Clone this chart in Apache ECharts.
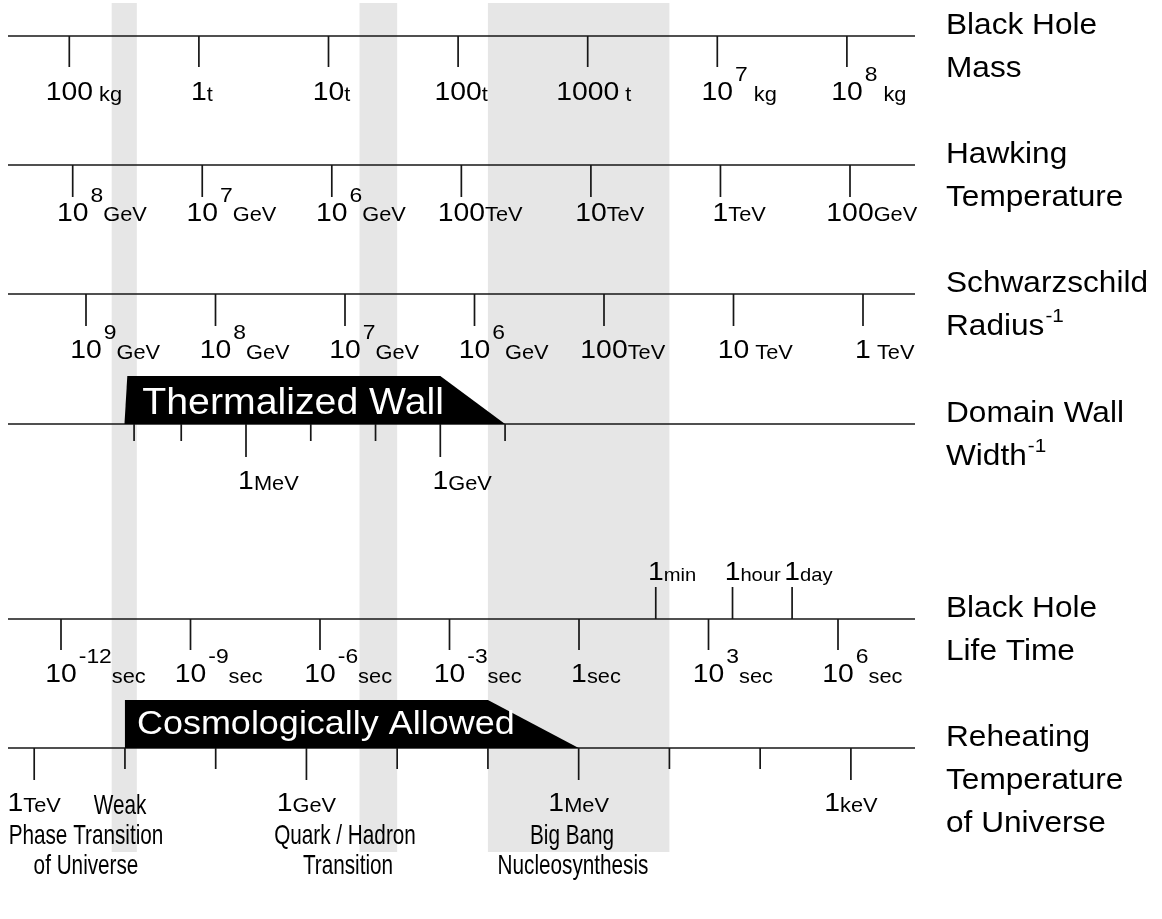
<!DOCTYPE html>
<html>
<head>
<meta charset="utf-8">
<script src="https://cdn.jsdelivr.net/npm/echarts@6.0.0/dist/echarts.min.js"></script>
<style>
  html, body { margin: 0; padding: 0; background: #fff; }
  #chart { width: 1162px; height: 919px; }
</style>
</head>
<body>
<div id="chart"></div>
<script>
// ---------------- DATA ----------------
// Black hole mass (kg)
const massValues = [1e2, 1e3, 1e4, 1e5, 1e6, 1e7, 1e8];
const massLabels = [['100', '', ' kg'], ['1', '', 't'], ['10', '', 't'], ['100', '', 't'], ['1000', '', ' t'], ['10', '7', ' kg'], ['10', '8', ' kg']];
// Hawking temperature (GeV)
const hawkingValues = [1e8, 1e7, 1e6, 1e5, 1e4, 1e3, 1e2];
const hawkingLabels = [['10', '8', 'GeV'], ['10', '7', 'GeV'], ['10', '6', 'GeV'], ['100', '', 'TeV'], ['10', '', 'TeV'], ['1', '', 'TeV'], ['100', '', 'GeV']];
// Schwarzschild radius^-1 (GeV)
const schwarzValues = [1e9, 1e8, 1e7, 1e6, 1e5, 1e4, 1e3];
const schwarzLabels = [['10', '9', 'GeV'], ['10', '8', 'GeV'], ['10', '7', 'GeV'], ['10', '6', 'GeV'], ['100', '', 'TeV'], ['10', '', ' TeV'], ['1', '', ' TeV']];
// Domain wall width^-1 (GeV)
const wallValues = [1.87e-5, 1e-4, 1e-3, 1e-2, 1e-1, 1, 10];
const wallLabels = [null, null, ['1', '', 'MeV'], null, null, ['1', '', 'GeV'], null];
// Black hole life time (sec)
const lifeValues = [1e-12, 1e-9, 1e-6, 1e-3, 1, 1e3, 1e6];
const lifeLabels = [['10', '-12', 'sec'], ['10', '-9', 'sec'], ['10', '-6', 'sec'], ['10', '-3', 'sec'], ['1', '', 'sec'], ['10', '3', 'sec'], ['10', '6', 'sec']];
const lifeMarkValues = [60, 3600, 86400];
const lifeMarkLabels = [['1', '', 'min'], ['1', '', 'hour'], ['1', '', 'day']];
// Reheating temperature of universe (GeV)
const reheatValues = [1e3, 1e2, 10, 1, 0.1, 0.01, 1e-3, 1e-4, 1e-5, 1e-6];
const reheatLabels = [['1', '', 'TeV'], null, null, ['1', '', 'GeV'], null, null, ['1', '', 'MeV'], null, null, ['1', '', 'keV']];
// Epochs (reheating temperature ranges, GeV)
const bandRanges = [[140, 74], [0.26, 0.1], [0.01, 1e-4]];
const bandNames = [['Weak', 'Phase Transition', 'of Universe'], ['Quark / Hadron', 'Transition'], ['Big Bang', 'Nucleosynthesis']];
// Banners
const wallBanner = { text: 'Thermalized Wall', bottomLeft: 1.33e-5, topLeft: 1.47e-5, topRight: 1, bottomRight: 10 };
const cosmoBanner = { text: 'Cosmologically Allowed', bottomLeft: 100, topLeft: 100, topRight: 0.01, bottomRight: 1e-3 };
// Row titles
const rowTitles = [
  [['Black Hole'], ['Mass']],
  [['Hawking'], ['Temperature']],
  [['Schwarzschild'], ['Radius', '-1']],
  [['Domain Wall'], ['Width', '-1']],
  [['Black Hole'], ['Life Time']],
  [['Reheating'], ['Temperature'], ['of Universe']]
];

// ---------------- LAYOUT / STYLE ----------------
const FONT = '"Liberation Sans", Arial, Helvetica, sans-serif';
const INK = '#161616';
const LW = 1.7;
const SX = 1.09;           // horizontal text stretch
const NUM = 26, SUP = 21, UNIT = 20, TITLE = 29;
const SUP_RISE = 19, SUP_GAP = 2;
const BAND = '#e6e6e6', BAND_TOP = 3, BAND_BOTTOM = 852;
const PLOT_L = 8, PLOT_R = 915, W = 1162, H = 919;

// axis anchors: two (value, pixel) pairs per row
const rows = [
  { a: [1e2, 69.3, 1e8, 846.9], lineY: 36, labelBase: 102, major: 31, minor: 31, dir: 1, mode: 'num' },
  { a: [1e8, 72.7, 1e2, 850], lineY: 165, labelBase: 222.5, major: 32, minor: 32, dir: 1, mode: 'num' },
  { a: [1e9, 86, 1e3, 863], lineY: 294, labelBase: 360, major: 32, minor: 32, dir: 1, mode: 'num' },
  { a: [1e-3, 246, 1, 440.3], lineY: 424, labelBase: 491, major: 33, minor: 17, dir: 1, mode: 'num' },
  { a: [1e-12, 61, 1e6, 838], lineY: 619, labelBase: 684, major: 31, minor: 31, dir: 1, mode: 'num' },
  { a: [1e3, 34.2, 1e-6, 850.9], lineY: 748, labelBase: 813, major: 32, minor: 21, dir: 1, mode: 'all' }
];
const lifeMarkOpt = { lineY: 619, labelBase: 582, major: 32, minor: 32, dir: -1, mode: 'num', unit: 18.5 };
const bandLabelPos = [[[120, 816], [86, 846], [86, 876]], [[345, 846], [348, 876]], [[572, 846], [573, 876]]];
const BAND_FONT = 28, BAND_SX = 0.74;
const TITLE_X = 946, TITLE_LH = 43;

// ---------------- HELPERS ----------------
const mctx = document.createElement('canvas').getContext('2d');
function tw(text, size, sx) {
  mctx.font = size + 'px ' + FONT;
  return mctx.measureText(text).width * (sx || SX);
}
function txt(x, base, text, size, fill, align, sx) {
  return {
    type: 'text', x: x, y: base - 0.35 * size, scaleX: sx || SX, z2: 10,
    style: { text: text, font: size + 'px ' + FONT, fill: fill || '#000', align: align || 'left', verticalAlign: 'middle' }
  };
}
function labelEls(x, base, parts, mode, unitSize) {
  const us = unitSize || UNIT;
  const n = parts[0], s = parts[1], u = parts[2];
  const wn = tw(n, NUM), ws = s ? tw(s, SUP) + SUP_GAP : 0, wu = u ? tw(u, us) : 0;
  let cx = mode === 'all' ? x - (wn + ws + wu) / 2 : x - wn / 2;
  const els = [txt(cx, base, n, NUM)];
  cx += wn;
  if (s) { els.push(txt(cx + SUP_GAP, base - SUP_RISE, s, SUP)); cx += ws; }
  if (u) els.push(txt(cx, base, u, us));
  return els;
}
function logAxis(i, a) {
  const a1 = Math.log10(a[0]), a2 = Math.log10(a[2]);
  const k = (a2 - a1) / (a[3] - a[1]);
  const lo = a1 + (PLOT_L - a[1]) * k, hi = a1 + (PLOT_R - a[1]) * k;
  return {
    type: 'log', logBase: 10, gridIndex: i, show: false, inverse: lo > hi,
    min: Math.pow(10, Math.min(lo, hi)), max: Math.pow(10, Math.max(lo, hi))
  };
}
function tickSeries(axisIdx, values, labels, opt, withBaseline) {
  return {
    type: 'custom', xAxisIndex: axisIdx, yAxisIndex: axisIdx, z: 2, silent: true, animation: false,
    data: values.map(function (v, i) { return [v, i]; }),
    renderItem: function (params, api) {
      const i = api.value(1);
      const p = api.coord([api.value(0), opt.lineY]);
      const lab = labels[i];
      const len = lab ? opt.major : opt.minor;
      const children = [];
      if (withBaseline && params.dataIndex === 0) {
        const cs = params.coordSys;
        children.push({ type: 'line', shape: { x1: cs.x, y1: p[1], x2: cs.x + cs.width, y2: p[1] }, style: { stroke: INK, lineWidth: LW } });
      }
      children.push({ type: 'line', shape: { x1: p[0], y1: p[1], x2: p[0], y2: p[1] + opt.dir * len }, style: { stroke: INK, lineWidth: LW } });
      if (lab) Array.prototype.push.apply(children, labelEls(p[0], opt.labelBase, lab, opt.mode, opt.unit));
      return { type: 'group', children: children };
    }
  };
}
function bannerSeries(axisIdx, b, lineY, height, size, dx, dyBase) {
  return {
    type: 'custom', xAxisIndex: axisIdx, yAxisIndex: axisIdx, z: 3, silent: true, animation: false,
    data: [[b.bottomLeft, b.topLeft, b.topRight, b.bottomRight]],
    renderItem: function (params, api) {
      const top = lineY - height;
      const p1 = api.coord([api.value(0), lineY]);
      const p2 = api.coord([api.value(1), top]);
      const p3 = api.coord([api.value(2), top]);
      const p4 = api.coord([api.value(3), lineY]);
      return {
        type: 'group', children: [
          { type: 'polygon', shape: { points: [p1, p2, p3, p4] }, style: { fill: '#000' } },
          txt(p2[0] + dx, lineY - dyBase, b.text, size, '#fff')
        ]
      };
    }
  };
}

// ---------------- OPTION ----------------
const grids = [], xAxes = [], yAxes = [];
rows.forEach(function (r, i) {
  grids.push({ left: PLOT_L, right: W - PLOT_R, top: 0, bottom: 0 });
  xAxes.push(logAxis(i, r.a));
  yAxes.push({ type: 'value', gridIndex: i, min: 0, max: H, inverse: true, show: false });
});

const series = [
  {
    type: 'custom', xAxisIndex: 5, yAxisIndex: 5, z: 0, silent: true, animation: false,
    data: bandRanges.map(function (b) { return [b[0], b[1]]; }),
    renderItem: function (params, api) {
      const x1 = api.coord([api.value(0), BAND_TOP])[0];
      const x2 = api.coord([api.value(1), BAND_TOP])[0];
      return { type: 'rect', shape: { x: Math.min(x1, x2), y: BAND_TOP, width: Math.abs(x2 - x1), height: BAND_BOTTOM - BAND_TOP }, style: { fill: BAND } };
    }
  },
  tickSeries(0, massValues, massLabels, rows[0], true),
  tickSeries(1, hawkingValues, hawkingLabels, rows[1], true),
  tickSeries(2, schwarzValues, schwarzLabels, rows[2], true),
  tickSeries(3, wallValues, wallLabels, rows[3], true),
  tickSeries(4, lifeValues, lifeLabels, rows[4], true),
  tickSeries(4, lifeMarkValues, lifeMarkLabels, lifeMarkOpt, false),
  tickSeries(5, reheatValues, reheatLabels, rows[5], true),
  bannerSeries(3, wallBanner, rows[3].lineY, 48, 36, 15, 7.5),
  bannerSeries(5, cosmoBanner, rows[5].lineY, 48, 33, 12, 11.5)
];

// Titles and epoch names (text only)
const graphic = [];
rowTitles.forEach(function (lines, i) {
  lines.forEach(function (ln, j) {
    const base = rows[i].lineY + j * TITLE_LH;
    graphic.push(Object.assign(txt(TITLE_X, base, ln[0], TITLE), { z: 20 }));
    if (ln[1]) {
      graphic.push(Object.assign(txt(TITLE_X + tw(ln[0], TITLE) + 1, base - 14, ln[1], 19), { z: 20 }));
    }
  });
});
bandNames.forEach(function (lines, i) {
  lines.forEach(function (t, j) {
    const pos = bandLabelPos[i][j];
    graphic.push(Object.assign(txt(pos[0], pos[1], t, BAND_FONT, '#000', 'center', BAND_SX), { z: 20 }));
  });
});

const chart = echarts.init(document.getElementById('chart'), null, { renderer: 'canvas' });
chart.setOption({
  backgroundColor: '#fff',
  animation: false,
  grid: grids,
  xAxis: xAxes,
  yAxis: yAxes,
  series: series,
  graphic: graphic
});
</script>
</body>
</html>
